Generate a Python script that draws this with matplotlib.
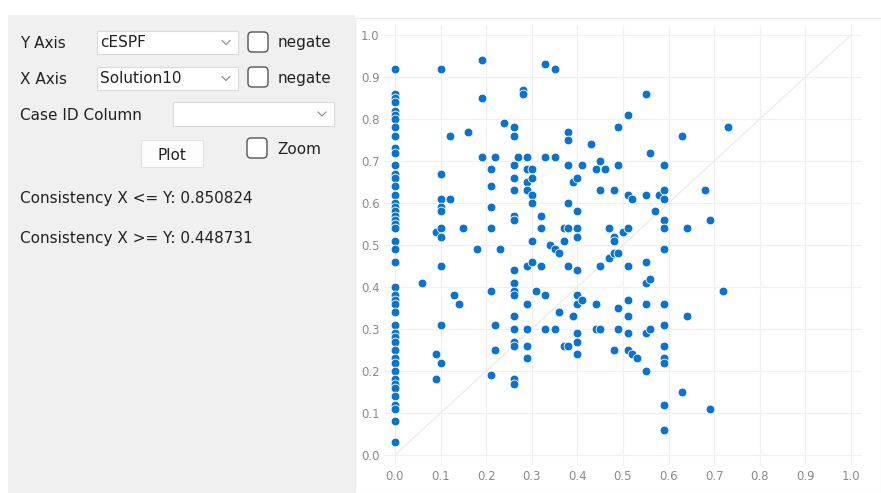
import matplotlib.pyplot as plt
from matplotlib.patches import Rectangle, FancyBboxPatch

# Solution10 (x) against cESPF (y)
x_solution10 = (
    [0.0] * 47
    + [0.06, 0.09, 0.09, 0.09]
    + [0.10] * 10
    + [0.12, 0.12, 0.13, 0.14, 0.15, 0.16, 0.18, 0.19, 0.19, 0.19]
    + [0.21] * 6 + [0.22] * 3 + [0.23, 0.24]
    + [0.26] * 17 + [0.27, 0.28, 0.28]
    + [0.29] * 9 + [0.30] * 6 + [0.31] + [0.32] * 3 + [0.33] * 4
    + [0.34] + [0.35] * 4 + [0.36] * 2 + [0.37] * 3 + [0.38] * 7
    + [0.39] * 2 + [0.40] * 10 + [0.41] * 2 + [0.43] + [0.44] * 3
    + [0.45] * 4 + [0.46] + [0.47] * 2 + [0.48] * 5 + [0.49] * 5
    + [0.50] + [0.51] * 8 + [0.52] * 2 + [0.53] + [0.55] * 7
    + [0.56] * 3 + [0.57, 0.58] + [0.59] * 13 + [0.63] * 2
    + [0.64] * 2 + [0.68] + [0.69] * 2 + [0.72, 0.73]
)
y_cespf = (
    [0.92, 0.86, 0.85, 0.84, 0.82, 0.81, 0.80, 0.78, 0.76, 0.73, 0.72, 0.69,
     0.67, 0.66, 0.64, 0.62, 0.60, 0.59, 0.58, 0.57, 0.56, 0.55, 0.54, 0.51,
     0.49, 0.46, 0.40, 0.38, 0.37, 0.36, 0.34, 0.31, 0.29, 0.28, 0.27, 0.25,
     0.23, 0.22, 0.20, 0.18, 0.17, 0.16, 0.14, 0.12, 0.11, 0.08, 0.03]
    + [0.41, 0.53, 0.24, 0.18]
    + [0.92, 0.67, 0.61, 0.59, 0.58, 0.54, 0.52, 0.45, 0.31, 0.22]
    + [0.76, 0.61, 0.38, 0.36, 0.54, 0.77, 0.49, 0.94, 0.85, 0.71]
    + [0.68, 0.64, 0.59, 0.54, 0.39, 0.19] + [0.71, 0.31, 0.25] + [0.49, 0.79]
    + [0.78, 0.76, 0.69, 0.66, 0.63, 0.57, 0.56, 0.44, 0.41, 0.39, 0.38, 0.33,
       0.30, 0.27, 0.26, 0.18, 0.17]
    + [0.71, 0.87, 0.86]
    + [0.71, 0.68, 0.65, 0.63, 0.45, 0.36, 0.30, 0.26, 0.23]
    + [0.68, 0.66, 0.62, 0.60, 0.51, 0.46] + [0.39] + [0.57, 0.54, 0.45]
    + [0.93, 0.71, 0.38, 0.30]
    + [0.50] + [0.92, 0.71, 0.49, 0.30] + [0.48, 0.34] + [0.54, 0.51, 0.26]
    + [0.77, 0.75, 0.69, 0.60, 0.54, 0.45, 0.26]
    + [0.65, 0.33] + [0.66, 0.58, 0.54, 0.52, 0.44, 0.38, 0.36, 0.29, 0.27, 0.24]
    + [0.69, 0.37] + [0.74] + [0.68, 0.36, 0.30]
    + [0.70, 0.63, 0.45, 0.30] + [0.68] + [0.54, 0.47]
    + [0.63, 0.52, 0.51, 0.48, 0.25] + [0.78, 0.69, 0.48, 0.35, 0.30]
    + [0.53] + [0.81, 0.62, 0.54, 0.45, 0.37, 0.33, 0.29, 0.25] + [0.61, 0.24]
    + [0.23] + [0.86, 0.62, 0.46, 0.41, 0.36, 0.29, 0.20]
    + [0.72, 0.42, 0.30] + [0.58, 0.62]
    + [0.69, 0.63, 0.61, 0.56, 0.54, 0.49, 0.36, 0.31, 0.26, 0.23, 0.22, 0.12, 0.06]
    + [0.76, 0.15] + [0.54, 0.33] + [0.63] + [0.56, 0.11] + [0.39, 0.78]
)
ticks = [0.0, 0.1, 0.2, 0.3, 0.4, 0.5, 0.6, 0.7, 0.8, 0.9, 1.0]

y_column = 'cESPF'
x_column = 'Solution10'
consistency_le = 0.850824
consistency_ge = 0.448731

plt.rcParams['font.family'] = ['DejaVu Sans']

fig = plt.figure(figsize=(8.81, 4.93), dpi=100)

# control panel drawn in pixel coordinates
gui = fig.add_axes([0, 0, 1, 1])
gui.set_xlim(0, 881)
gui.set_ylim(493, 0)
gui.axis('off')
gui.add_patch(Rectangle((8, 15), 347, 478, facecolor='#f0f0f0', edgecolor='none'))
gui.add_patch(Rectangle((355, 18), 526, 475, facecolor='white', edgecolor='#ececec', lw=0.8))

fs = 11
txt = '#222222'


def combo(x0, y0, w, h, label):
    gui.add_patch(Rectangle((x0, y0), w, h, facecolor='white', edgecolor='#dadada', lw=0.8))
    if label:
        gui.text(x0 + 3, y0 + h / 2, label, fontsize=fs, color=txt, va='center')
    cx = x0 + w - 12
    cy = y0 + h / 2
    gui.plot([cx - 4, cx, cx + 4], [cy - 2, cy + 2, cy - 2], color='#888888', lw=0.8)


def checkbox(x0, y0, label):
    gui.add_patch(FancyBboxPatch((x0, y0), 20, 20, boxstyle='round,pad=0,rounding_size=4',
                                 facecolor='white', edgecolor='#555555', lw=1.0))
    gui.text(x0 + 30, y0 + 11, label, fontsize=fs, color=txt, va='center')


gui.text(20, 43, 'Y Axis', fontsize=fs, color=txt, va='center')
combo(97, 31, 141, 23, y_column)
checkbox(248, 32, 'negate')

gui.text(20, 79, 'X Axis', fontsize=fs, color=txt, va='center')
combo(97, 67, 141, 23, x_column)
checkbox(248, 67, 'negate')

gui.text(20, 115, 'Case ID Column', fontsize=fs, color=txt, va='center')
combo(173, 102, 161, 24, '')

gui.add_patch(Rectangle((141, 140), 62, 27, facecolor='#fdfdfd', edgecolor='#e2e2e2', lw=0.8))
gui.text(172, 155, 'Plot', fontsize=fs, color=txt, ha='center', va='center')
checkbox(247, 138, 'Zoom')

gui.text(20, 198, f'Consistency X <= Y: {consistency_le:.6f}', fontsize=fs, color=txt, va='center')
gui.text(20, 238, f'Consistency X >= Y: {consistency_ge:.6f}', fontsize=fs, color=txt, va='center')

# scatter plot
ax = fig.add_axes([0.4354, 0.0558, 0.5435, 0.8945])
ax.set_facecolor('none')
ax.plot([0, 1], [0, 1], color='#ebebeb', lw=0.9, zorder=1)
ax.scatter(x_solution10, y_cespf, s=40, color='#0a73cf', edgecolors='white',
           linewidths=0.6, zorder=3)
ax.set_xlim(-0.025, 1.025)
ax.set_ylim(-0.025, 1.025)
ax.set_xticks(ticks)
ax.set_yticks(ticks)
ax.set_xticklabels([f'{t:.1f}' for t in ticks])
ax.set_yticklabels([f'{t:.1f}' for t in ticks])
ax.grid(True, color='#f0f0f0', lw=0.9, zorder=0)
ax.set_axisbelow(True)
for s in ax.spines.values():
    s.set_visible(False)
ax.tick_params(length=0, labelsize=8.5, labelcolor='#8a8a8a', pad=3)

fig.savefig('out.png', dpi=100)
